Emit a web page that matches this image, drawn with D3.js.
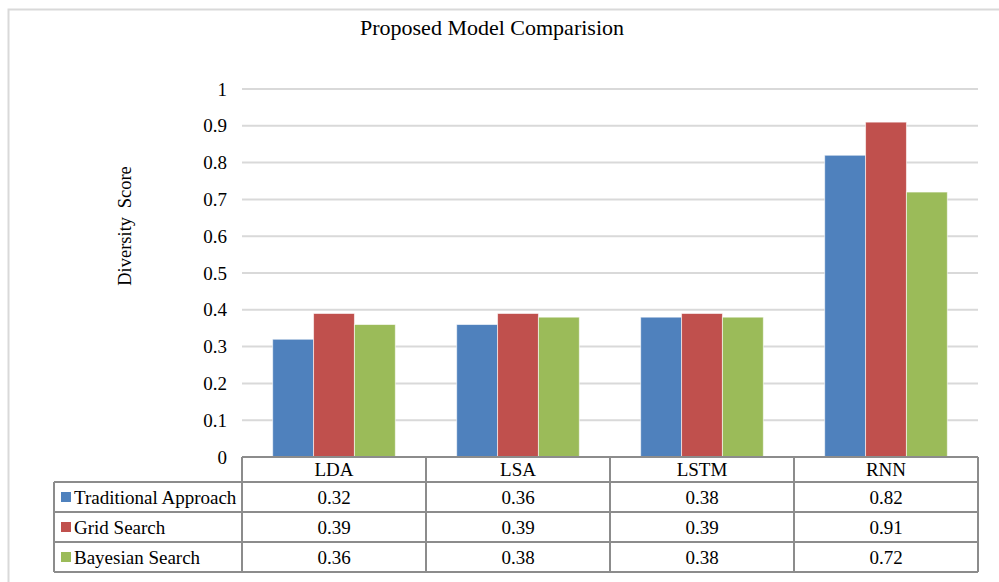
<!DOCTYPE html>
<html>
<head>
<meta charset="utf-8">
<script src="https://cdn.jsdelivr.net/npm/d3@7"></script>
<style>
  html, body { margin: 0; padding: 0; background: #ffffff; }
  svg { display: block; font-family: "Liberation Serif", "Times New Roman", serif; }
</style>
</head>
<body>
<svg id="chart" width="999" height="582"></svg>
<script>
// Chart data
const categories = ["LDA", "LSA", "LSTM", "RNN"];
const seriesNames = ["Traditional Approach", "Grid Search", "Bayesian Search"];
const traditional = [0.32, 0.36, 0.38, 0.82];
const gridSearch = [0.39, 0.39, 0.39, 0.91];
const bayesian = [0.36, 0.38, 0.38, 0.72];
const yTicks = [0, 0.1, 0.2, 0.3, 0.4, 0.5, 0.6, 0.7, 0.8, 0.9, 1];
const colors = ["#4F81BD", "#C0504D", "#9BBB59"];

const seriesValues = [traditional, gridSearch, bayesian];
const series = seriesNames.map((name, i) => ({ name, values: seriesValues[i], color: colors[i] }));

const svg = d3.select("#chart");

// Layout
const plotLeft = 242, plotRight = 978, plotTop = 89, plotBottom = 457;
const headerH = 25, rowH = 30, legendLeft = 54;
const gridColor = "#d9d9d9", tableColor = "#8c8c8c";
const fontSize = 19;

// Outer chart frame
svg.append("rect")
  .attr("x", 8.5).attr("y", 9.5)
  .attr("width", 1010).attr("height", 600)
  .attr("fill", "none").attr("stroke", "#d9d9d9").attr("stroke-width", 2);

// Title
svg.append("text")
  .attr("x", 492).attr("y", 35)
  .attr("text-anchor", "middle")
  .attr("font-size", 22)
  .attr("fill", "#000")
  .text("Proposed Model Comparision");

// Scales
const x = d3.scaleBand().domain(categories).range([plotLeft, plotRight]).padding(0);
const xs = d3.scaleBand().domain(seriesNames).range([0, x.bandwidth()]).paddingInner(0).paddingOuter(0.75);
const y = d3.scaleLinear().domain([0, 1]).range([plotBottom, plotTop]);

// Gridlines
svg.append("g")
  .selectAll("line")
  .data(yTicks.filter(t => t > 0))
  .join("line")
  .attr("x1", plotLeft).attr("x2", plotRight)
  .attr("y1", d => y(d)).attr("y2", d => y(d))
  .attr("stroke", gridColor).attr("stroke-width", 2);

// Y axis labels
const yAxis = d3.axisLeft(y).tickValues(yTicks).tickSize(0).tickPadding(15)
  .tickFormat(d => d3.format("")(+d.toFixed(1)));
const yg = svg.append("g").attr("transform", `translate(${plotLeft},0)`).call(yAxis);
yg.select(".domain").remove();
yg.selectAll("text")
  .attr("font-family", "Liberation Serif, Times New Roman, serif")
  .attr("font-size", fontSize).attr("fill", "#000");

// Y axis title
svg.append("text")
  .attr("transform", "translate(131,226) rotate(-90)")
  .attr("text-anchor", "middle")
  .attr("font-size", 18.5)
  .attr("word-spacing", 4)
  .attr("fill", "#000")
  .text("Diversity Score");

// Bars
const groups = svg.append("g").selectAll("g")
  .data(series)
  .join("g")
  .attr("fill", d => d.color);

groups.selectAll("rect")
  .data(s => s.values.map((v, i) => ({ cat: categories[i], v, name: s.name })))
  .join("rect")
  .attr("x", d => x(d.cat) + xs(d.name))
  .attr("width", xs.bandwidth())
  .attr("y", d => y(d.v))
  .attr("height", d => y(0) - y(d.v))
  .attr("stroke", "rgba(255,255,255,0.6)")
  .attr("stroke-width", 1);

// Data table
const table = svg.append("g");
const tableBottom = plotBottom + headerH + rowH * series.length;

// Horizontal rules
table.append("line")
  .attr("x1", plotLeft).attr("x2", plotRight)
  .attr("y1", plotBottom).attr("y2", plotBottom);
for (let r = 0; r <= series.length; r++) {
  const yy = plotBottom + headerH + r * rowH;
  table.append("line")
    .attr("x1", legendLeft).attr("x2", plotRight)
    .attr("y1", yy).attr("y2", yy);
}
// Vertical rules
table.append("line")
  .attr("x1", legendLeft).attr("x2", legendLeft)
  .attr("y1", plotBottom + headerH).attr("y2", tableBottom);
categories.forEach(c => {
  table.append("line")
    .attr("x1", x(c)).attr("x2", x(c))
    .attr("y1", plotBottom).attr("y2", tableBottom);
});
table.append("line")
  .attr("x1", plotRight).attr("x2", plotRight)
  .attr("y1", plotBottom).attr("y2", tableBottom);
table.selectAll("line").attr("stroke", tableColor).attr("stroke-width", 2);

// Header labels
table.selectAll("text.cat")
  .data(categories)
  .join("text")
  .attr("class", "cat")
  .attr("x", d => x(d) + x.bandwidth() / 2)
  .attr("y", plotBottom + headerH / 2)
  .attr("dy", "0.35em")
  .attr("text-anchor", "middle")
  .attr("font-size", fontSize)
  .text(d => d);

// Legend keys and values
series.forEach((s, r) => {
  const cy = plotBottom + headerH + r * rowH + rowH / 2;
  table.append("rect")
    .attr("x", 61).attr("y", cy - 5)
    .attr("width", 10).attr("height", 10)
    .attr("fill", s.color);
  table.append("text")
    .attr("x", 74).attr("y", cy).attr("dy", "0.35em")
    .attr("font-size", fontSize)
    .text(s.name);
  s.values.forEach((v, i) => {
    table.append("text")
      .attr("x", x(categories[i]) + x.bandwidth() / 2)
      .attr("y", cy).attr("dy", "0.35em")
      .attr("text-anchor", "middle")
      .attr("font-size", fontSize)
      .text(v.toFixed(2));
  });
});
</script>
</body>
</html>
